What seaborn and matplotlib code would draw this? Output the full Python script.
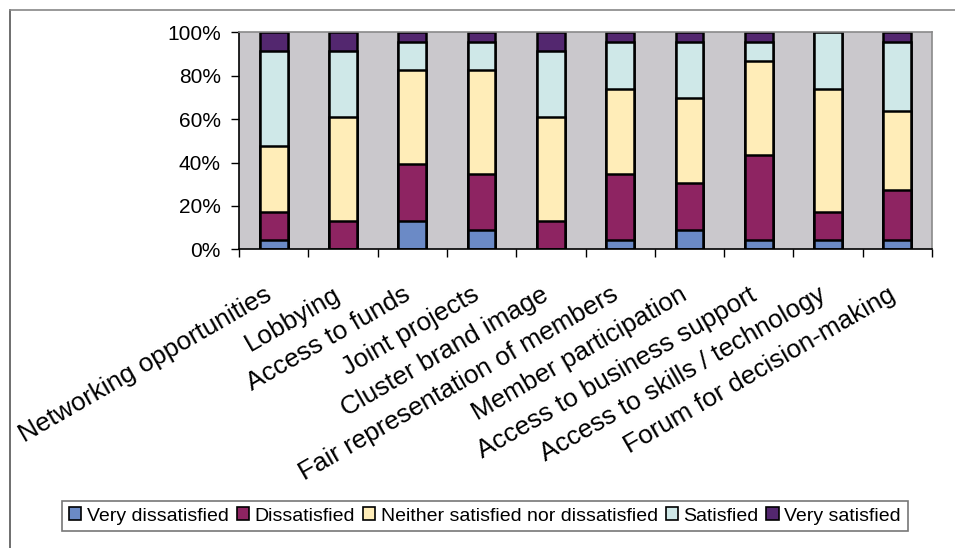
import matplotlib
matplotlib.use("Agg")
import matplotlib.pyplot as plt
from matplotlib.patches import Patch
from matplotlib.lines import Line2D
from matplotlib.transforms import ScaledTranslation
import seaborn as sns
import pandas as pd
import numpy as np

categories = ["Networking opportunities", "Lobbying", "Access to funds", "Joint projects",
              "Cluster brand image", "Fair representation of members", "Member participation",
              "Access to business support", "Access to skills / technology",
              "Forum for decision-making"]
series = ["Very dissatisfied", "Dissatisfied", "Neither satisfied nor dissatisfied",
          "Satisfied", "Very satisfied"]
very_dissatisfied = [4.3, 0.0, 13.0, 8.7, 0.0, 4.3, 8.7, 4.3, 4.3, 4.5]
dissatisfied      = [13.0, 13.0, 26.1, 26.1, 13.0, 30.4, 21.7, 39.1, 13.0, 22.7]
neither           = [30.4, 47.8, 43.5, 47.8, 47.8, 39.1, 39.1, 43.5, 56.5, 36.4]
satisfied         = [43.5, 30.4, 13.0, 13.0, 30.4, 21.7, 26.1, 8.7, 26.1, 31.8]
very_satisfied    = [8.7, 8.7, 4.3, 4.3, 8.7, 4.3, 4.3, 4.3, 0.0, 4.5]
yticks = [0, 20, 40, 60, 80, 100]
ytick_labels = ["0%", "20%", "40%", "60%", "80%", "100%"]

colors = ["#6B8AC6", "#8E2462", "#FFEDB8", "#CFE8E8", "#53276F"]

values = np.array([very_dissatisfied, dissatisfied, neither, satisfied, very_satisfied])
totals = values.sum(axis=0)
cum = np.cumsum(values / totals * 100, axis=0)

fig = plt.figure(figsize=(9.55, 5.48), dpi=100)
ax = fig.add_axes([239/955, 1-249.3/548, (932-239)/955, (249.3-32.3)/548])
ax.set_facecolor("#CAC8CC")

for i in range(len(series) - 1, -1, -1):
    df = pd.DataFrame({"cat": categories, "val": cum[i]})
    sns.barplot(data=df, x="cat", y="val", order=categories, color=colors[i],
                width=0.4, edgecolor="black", linewidth=1.8, saturation=1,
                ax=ax, zorder=2)

ax.set_xlim(-0.5, len(categories) - 0.5)
ax.set_ylim(0, 100)
ax.set_yticks(yticks)
ax.set_yticklabels(ytick_labels, fontsize=15, fontfamily="Liberation Sans")
ax.set_xlabel("")
ax.set_ylabel("")
ax.set_xticks(np.arange(len(categories)))
ax.set_xticklabels(categories, rotation=30, ha="right", va="top",
                   rotation_mode="anchor", fontsize=18.8, fontfamily="Liberation Sans")
ax.tick_params(axis="x", length=0, pad=24)
for lab in ax.get_xticklabels():
    lab.set_transform(lab.get_transform() + ScaledTranslation(-10/100, 0, fig.dpi_scale_trans))
ax.set_xticks(np.arange(-0.5, len(categories)), minor=True)
ax.tick_params(axis="x", which="minor", length=6, width=1, direction="out", color="black")
ax.tick_params(axis="y", length=6, width=1, direction="out", color="black", pad=7)

for s in ["left", "bottom"]:
    ax.spines[s].set_color("black")
    ax.spines[s].set_linewidth(1.2)
for s in ["top", "right"]:
    ax.spines[s].set_color("#8A8A8A")
    ax.spines[s].set_linewidth(1.2)

handles = [Patch(facecolor=c, edgecolor="black", linewidth=1.2, label=l)
           for c, l in zip(colors, series)]
leg = fig.legend(handles=handles, loc="center", bbox_to_anchor=(485/955, 1-516/548),
                 ncol=5, frameon=True, fancybox=False,
                 prop={"family": "Liberation Sans", "size": 14},
                 handlelength=0.62, handleheight=0.62, handletextpad=0.3,
                 columnspacing=0.4, borderpad=0.35, borderaxespad=0)
leg.get_frame().set_edgecolor("#555555")
leg.get_frame().set_linewidth(1.2)

fig.add_artist(Line2D([10/955, 10/955], [0, 1-10/548], transform=fig.transFigure,
                      color="#555555", linewidth=1.2))
fig.add_artist(Line2D([10/955, 1], [1-10/548, 1-10/548], transform=fig.transFigure,
                      color="#888888", linewidth=1.2))

fig.savefig("out.png", dpi=100)
